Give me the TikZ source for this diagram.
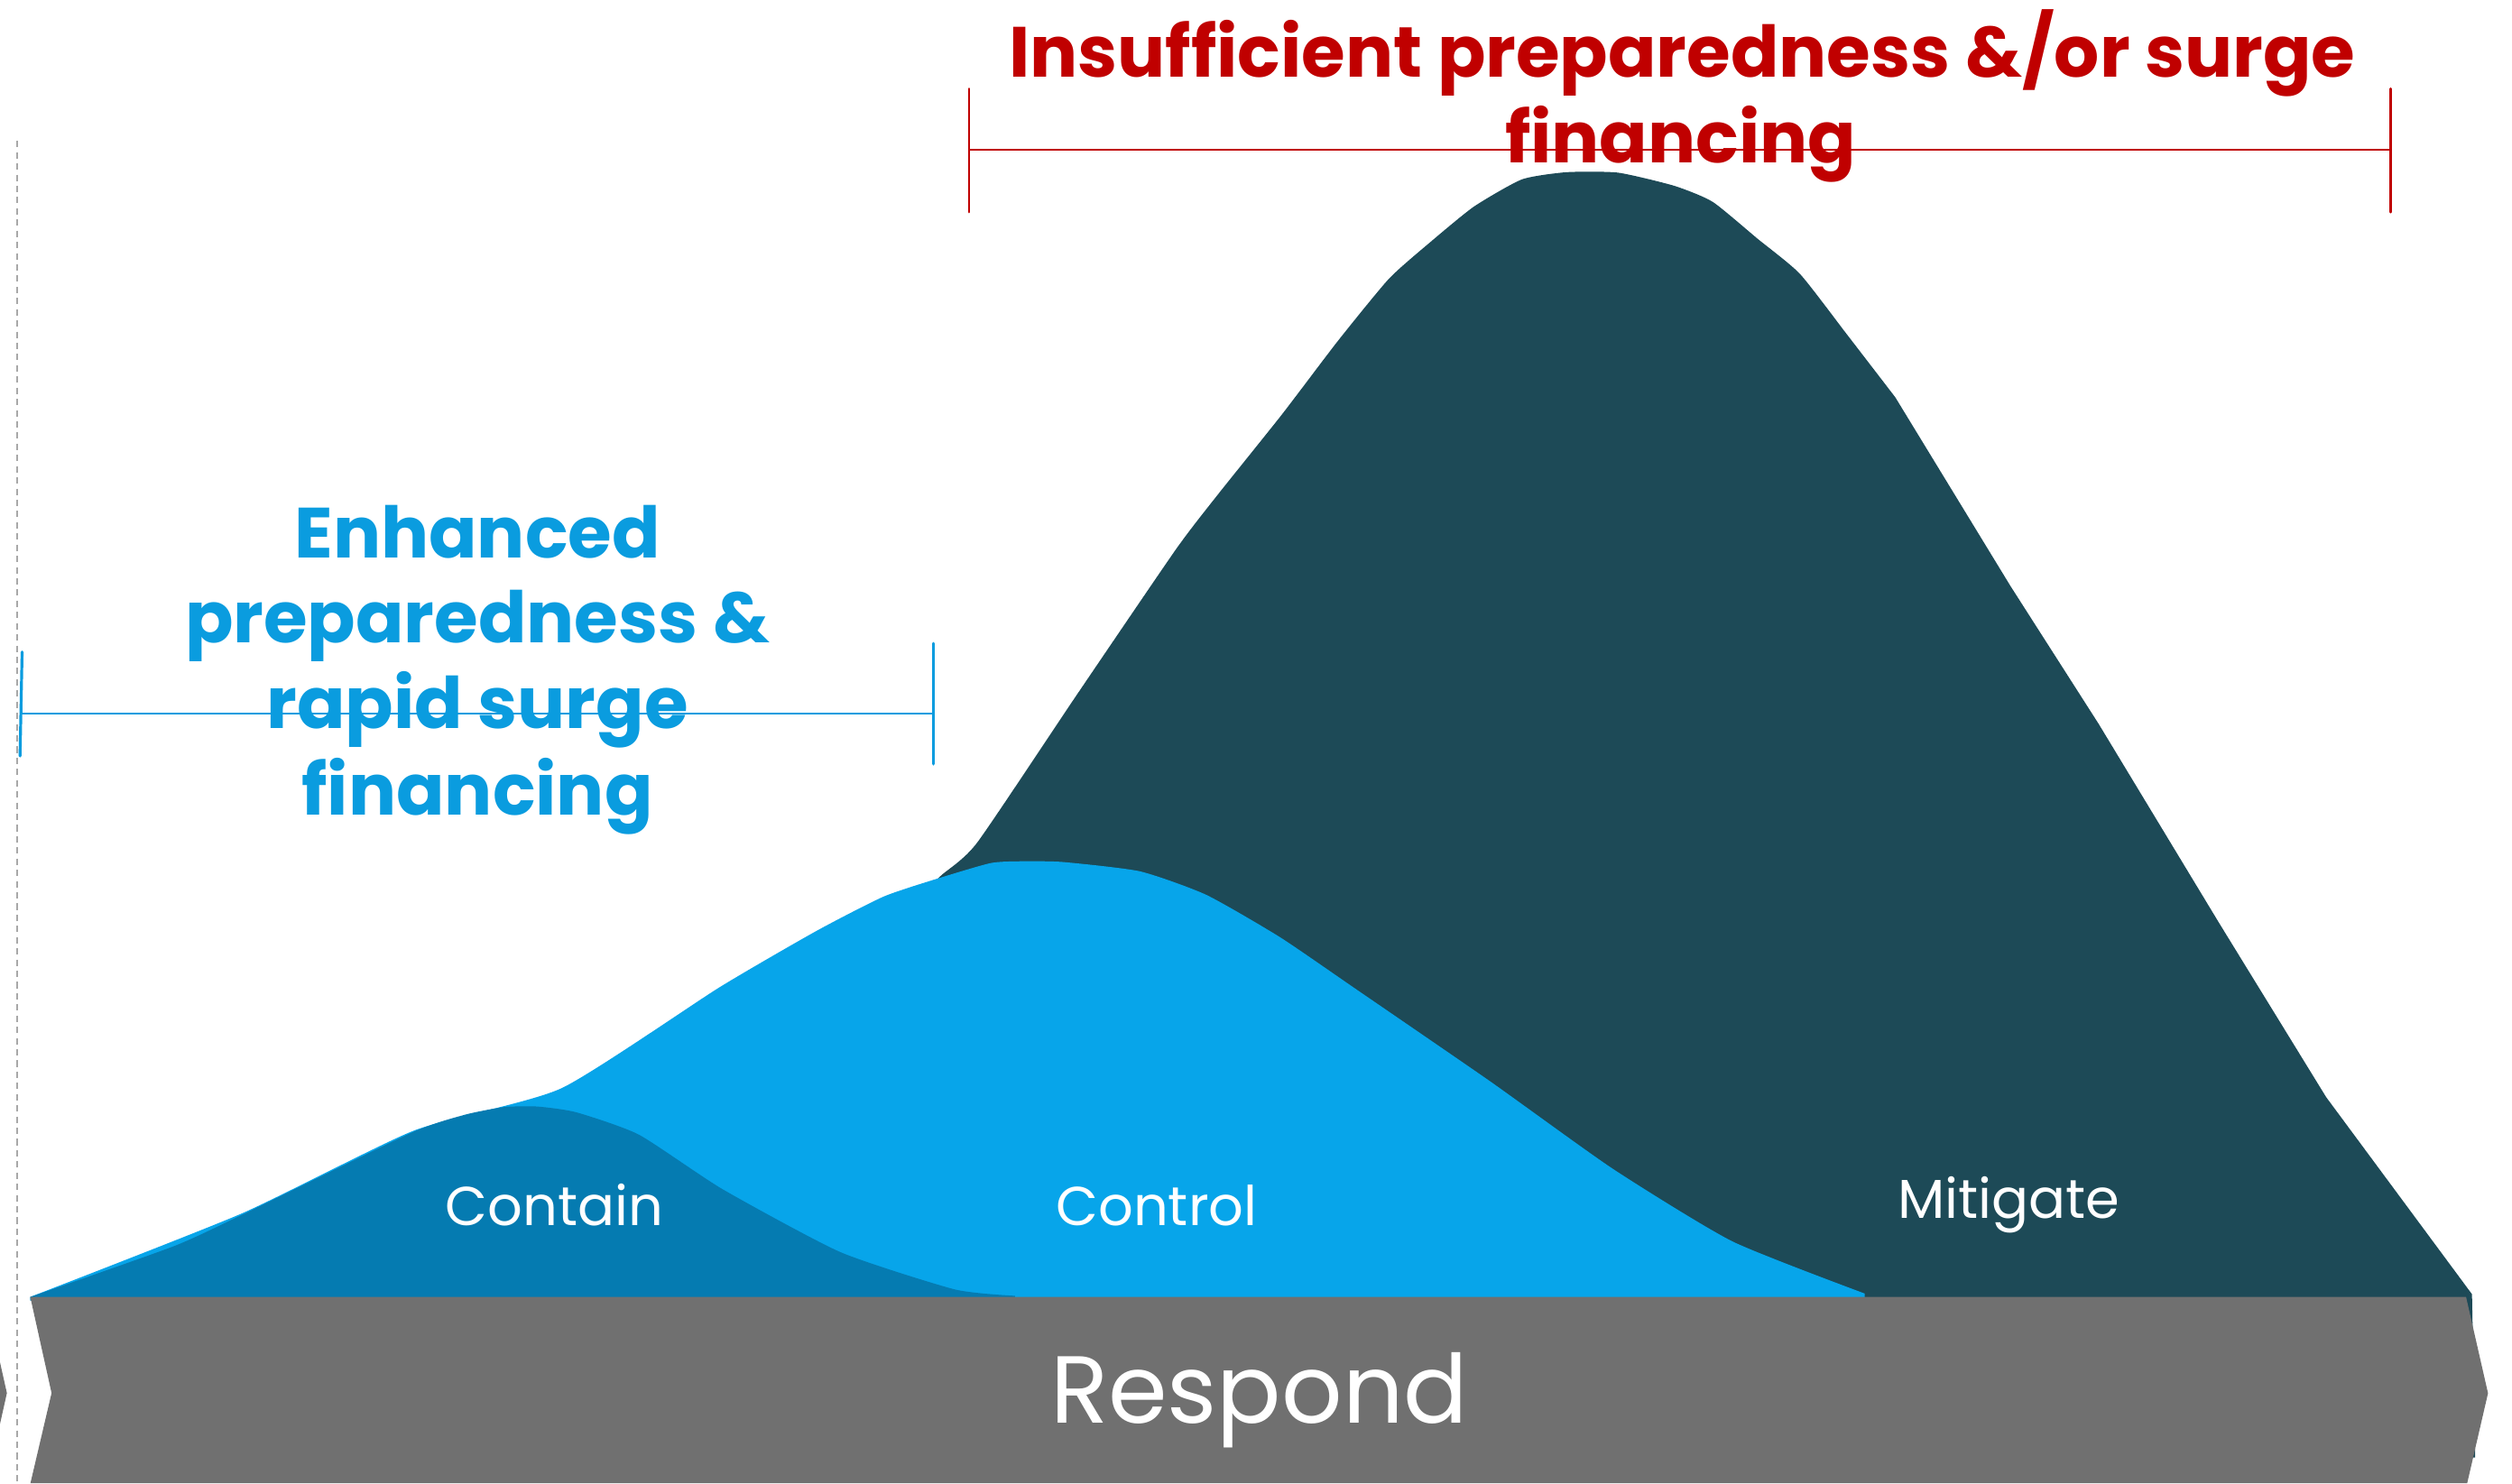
\documentclass[tikz,border=0pt]{standalone}
\usepackage{fontspec}
\setmainfont{Poppins}
\definecolor{mitig}{HTML}{1D4A57}
\definecolor{ctrl}{HTML}{07A5EA}
\definecolor{cont}{HTML}{057BB1}
\definecolor{band}{HTML}{707070}
\definecolor{redt}{HTML}{C00000}
\definecolor{bluet}{HTML}{0A9CDF}
\definecolor{dashg}{HTML}{A8A8A8}
\begin{document}
\begin{tikzpicture}[x=1pt,y=-1pt,
  bigred/.style={text=redt,font=\fontsize{44.4}{53}\selectfont\bfseries,anchor=base,inner sep=0pt},
  bigblue/.style={text=bluet,font=\fontsize{44.4}{53}\selectfont\bfseries,anchor=base,inner sep=0pt},
  phase/.style={text=white,font=\fontsize{34.2}{40}\selectfont,anchor=base,inner sep=0pt},
  redline/.style={draw=redt,line width=1.6pt},
  blueline/.style={draw=bluet,line width=1.8pt}]
\useasboundingbox (0,0) rectangle (1568,926);
\fill[white] (0,0) rectangle (1568,926);
% dashed guide
\coordinate (dtop) at (10.7,88);
\coordinate (dbot) at (10.7,926);
\draw[dashg,line width=0.8pt,dash pattern=on 4pt off 3pt] (dtop) -- (dbot);
% Mitigate
\fill[mitig] plot[smooth,tension=0.35] coordinates {
 (570,565) (587,547) (610,526) (672,434) (734,343) (760,309) (800,259) (835,213) (867,174)
 (893,151) (920,129) (950,112) (978,107.5) (1010,107.8) (1045,116) (1069,126) (1097,149) (1123.5,171) (1153,209) (1183,248)}
 -- (1255,366) -- (1310,452) -- (1385,576) -- (1452,685) -- (1543,808) -- (1545,910) -- (1450,910) -- (570,812) -- cycle;
% Control
\fill[ctrl] plot[smooth,tension=0.35] coordinates {
 (18.9,809.7) (150.9,757.6) (258,706) (350.5,679.4) (449.1,616.4) (510,581) (551.7,559.7) (585.9,548.3) (618.5,538.8)
 (638.6,537.7) (663.8,538.2) (711.6,544) (752.8,558.6) (798.8,585) (846.8,617.8) (930,675) (1006.7,729.7) (1081.3,775) (1164,807.6)}
 -- (1164,812) -- (18.9,812) -- cycle;
% Contain
\fill[cont] plot[smooth,tension=0.35] coordinates {
 (18.9,809.7) (108.1,778.2) (150.9,758.5) (256.5,707.3) (290,696) (314.3,691.2) (335,690.8) (359.6,694.4) (398.8,708.4)
 (451.1,742.5) (524.5,781.7) (595.9,805) (633.6,809)}
 -- (633.6,812) -- (18.9,812) -- cycle;
% Respond band (chevron)
\fill[band] (0,850.5) -- (4.3,869.7) -- (0,889) -- cycle;
\fill[band] (18.9,809.7) -- (1539.3,809.7) -- (1553,869.8) -- (1540,926) -- (19,926) -- (32.2,869.7) -- cycle;
\node[text=white,font=\fontsize{59.5}{70}\selectfont,anchor=base,inner sep=0pt] (respond) at (786,888.6) {Respond};
% phase labels
\node[phase] (contain) at (346,765) {Contain};
\node[phase] (control) at (722,765) {Control};
\node[phase] (mitigate) at (1254,760.6) {Mitigate};
% blue text and bracket
\node[bigblue] (b1) at (298,348.2) {Enhanced};
\node[bigblue] (b2) at (298,401.5) {preparedness \&};
\node[bigblue] (b3) at (298,455) {rapid surge};
\node[bigblue] (b4) at (298,508.6) {financing};
\coordinate (bl1) at (13.8,407);
\coordinate (bl2) at (12.5,472);
\coordinate (bm1) at (13,445.5);
\coordinate (bm2) at (582.8,445.5);
\coordinate (br1) at (582.8,401.7);
\coordinate (br2) at (582.8,477);
\draw[blueline,line cap=round] (bl1) -- (bl2);
\draw[blueline,line cap=round] (br1) -- (br2);
\draw[draw=bluet,line width=1.6pt] (bm1) -- (bm2);
% red text and bracket
\node[bigred] (r1) at (1050,48.4) {Insufficient preparedness \&/or surge};
\node[bigred] (r2) at (1049,101.4) {financing};
\coordinate (rl1) at (604.9,55.4);
\coordinate (rl2) at (604.9,132.4);
\coordinate (rr1) at (1492.3,55.4);
\coordinate (rr2) at (1492.3,132.4);
\coordinate (rm1) at (604.9,93.5);
\coordinate (rm2) at (1492.3,93.5);
\draw[redline,line cap=round] (rl1) -- (rl2);
\draw[redline,line cap=round] (rr1) -- (rr2);
\draw[redline] (rm1) -- (rm2);
\end{tikzpicture}
\end{document}
